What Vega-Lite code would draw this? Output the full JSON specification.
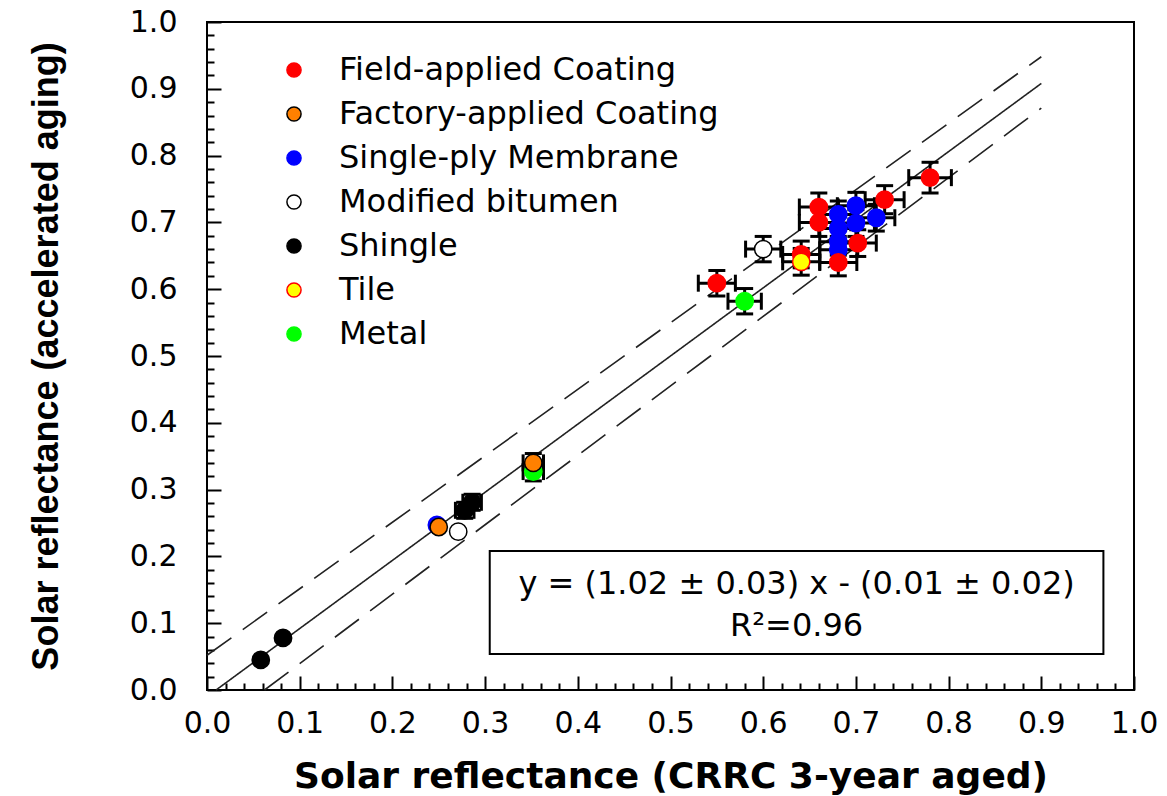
{
  "$schema": "https://vega.github.io/schema/vega-lite/v6.json",
  "width": 927,
  "height": 668,
  "autosize": {"type": "none"},
  "padding": {"left": 207, "top": 22, "right": 33, "bottom": 106},
  "background": "white",
  "config": {
    "view": {"stroke": "black", "strokeWidth": 2},
    "font": "DejaVu Sans"
  },
  "datasets": {
    "points": [
      {"type": "Field-applied Coating", "x": 0.780, "y": 0.767, "ex": 0.023, "ey": 0.023},
      {"type": "Field-applied Coating", "x": 0.731, "y": 0.734, "ex": 0.021, "ey": 0.021},
      {"type": "Field-applied Coating", "x": 0.660, "y": 0.723, "ex": 0.021, "ey": 0.021},
      {"type": "Field-applied Coating", "x": 0.660, "y": 0.700, "ex": 0.021, "ey": 0.021},
      {"type": "Field-applied Coating", "x": 0.641, "y": 0.652, "ex": 0.02, "ey": 0.02},
      {"type": "Field-applied Coating", "x": 0.550, "y": 0.609, "ex": 0.02, "ey": 0.019},
      {"type": "Single-ply Membrane", "x": 0.681, "y": 0.712, "ex": 0.02, "ey": 0.02},
      {"type": "Single-ply Membrane", "x": 0.700, "y": 0.725, "ex": 0.02, "ey": 0.02},
      {"type": "Single-ply Membrane", "x": 0.700, "y": 0.699, "ex": 0.02, "ey": 0.02},
      {"type": "Single-ply Membrane", "x": 0.722, "y": 0.707, "ex": 0.02, "ey": 0.02},
      {"type": "Single-ply Membrane", "x": 0.681, "y": 0.691, "ex": 0.02, "ey": 0.02},
      {"type": "Single-ply Membrane", "x": 0.681, "y": 0.671, "ex": 0.02, "ey": 0.02},
      {"type": "Single-ply Membrane", "x": 0.681, "y": 0.659, "ex": 0.02, "ey": 0.02},
      {"type": "Field-applied Coating", "x": 0.702, "y": 0.669, "ex": 0.02, "ey": 0.02},
      {"type": "Field-applied Coating", "x": 0.681, "y": 0.640, "ex": 0.02, "ey": 0.02},
      {"type": "Tile", "x": 0.641, "y": 0.641, "ex": 0.02, "ey": 0.02},
      {"type": "Modified bitumen", "x": 0.600, "y": 0.660, "ex": 0.019, "ey": 0.019},
      {"type": "Metal", "x": 0.580, "y": 0.582, "ex": 0.018, "ey": 0.019},
      {"type": "Metal", "x": 0.352, "y": 0.327, "ex": 0.011, "ey": 0.014},
      {"type": "Factory-applied Coating", "x": 0.352, "y": 0.340, "ex": 0.011, "ey": 0.014},
      {"type": "Shingle", "x": 0.278, "y": 0.269, "ex": 0.01, "ey": 0.012},
      {"type": "Shingle", "x": 0.286, "y": 0.281, "ex": 0.01, "ey": 0.012},
      {"type": "Modified bitumen", "x": 0.271, "y": 0.237, "ex": 0, "ey": 0},
      {"type": "Single-ply Membrane", "x": 0.248, "y": 0.247, "ex": 0, "ey": 0},
      {"type": "Factory-applied Coating", "x": 0.250, "y": 0.244, "ex": 0, "ey": 0},
      {"type": "Shingle", "x": 0.082, "y": 0.078, "ex": 0, "ey": 0},
      {"type": "Shingle", "x": 0.058, "y": 0.045, "ex": 0, "ey": 0}
    ],
    "lines": [
      {"line": "fit", "x": 0.0098, "y": 0.0},
      {"line": "fit", "x": 0.9, "y": 0.908},
      {"line": "upper", "x": 0.0, "y": 0.052},
      {"line": "upper", "x": 0.9, "y": 0.948},
      {"line": "lower", "x": 0.062, "y": 0.0},
      {"line": "lower", "x": 0.9, "y": 0.871}
    ],
    "box": [{"x": 0.305, "x2": 0.967, "y": 0.054, "y2": 0.208}],
    "eq": [
      {"x": 0.636, "y": 0.158, "t": "y = (1.02 ± 0.03) x - (0.01 ± 0.02)"},
      {"x": 0.636, "y": 0.096, "t": "R²=0.96"}
    ]
  },
  "layer": [
    {
      "data": {"name": "box"},
      "mark": {"type": "rect", "fill": "white", "stroke": "black", "strokeWidth": 2},
      "encoding": {
        "x": {"field": "x", "type": "quantitative", "scale": {"domain": [0, 1], "nice": false, "zero": false},
          "axis": {"orient": "bottom", "values": [0.02,0.04,0.06,0.08,0.12,0.14,0.16,0.18,0.22,0.24,0.26,0.28,0.32,0.34,0.36,0.38,0.42,0.44,0.46,0.48,0.52,0.54,0.56,0.58,0.62,0.64,0.66,0.68,0.72,0.74,0.76,0.78,0.82,0.84,0.86,0.88,0.92,0.94,0.96,0.98],
            "labels": false, "domain": false, "grid": false, "title": null, "tickSize": -7, "tickWidth": 2, "tickColor": "black"}},
        "x2": {"field": "x2"},
        "y": {"field": "y", "type": "quantitative", "scale": {"domain": [0, 1], "nice": false, "zero": false},
          "axis": {"orient": "left", "values": [0.02,0.04,0.06,0.08,0.12,0.14,0.16,0.18,0.22,0.24,0.26,0.28,0.32,0.34,0.36,0.38,0.42,0.44,0.46,0.48,0.52,0.54,0.56,0.58,0.62,0.64,0.66,0.68,0.72,0.74,0.76,0.78,0.82,0.84,0.86,0.88,0.92,0.94,0.96,0.98],
            "labels": false, "domain": false, "grid": false, "title": null, "tickSize": -7, "tickWidth": 2, "tickColor": "black"}},
        "y2": {"field": "y2"}
      }
    },
    {
      "data": {"name": "eq"},
      "mark": {"type": "text", "font": "DejaVu Sans", "fontSize": 32, "align": "center", "baseline": "middle", "color": "black"},
      "encoding": {
        "x": {"field": "x", "type": "quantitative", "axis": null},
        "y": {"field": "y", "type": "quantitative", "axis": null},
        "text": {"field": "t"}
      }
    },
    {
      "data": {"name": "lines"},
      "mark": {"type": "line", "color": "#222222", "strokeWidth": 1.6},
      "encoding": {
        "x": {"field": "x", "type": "quantitative", "axis": null},
        "y": {"field": "y", "type": "quantitative", "axis": null},
        "detail": {"field": "line"},
        "strokeDash": {"field": "line", "type": "nominal", "scale": {"domain": ["fit", "upper", "lower"], "range": [[1, 0], [30, 14], [30, 14]]}, "legend": null}
      }
    },
    {
      "data": {"name": "points"},
      "transform": [{"filter": "datum.ex > 0"}],
      "mark": {"type": "errorbar", "ticks": {"color": "black", "opacity": 1, "thickness": 3, "size": 17}, "rule": {"color": "black", "opacity": 1, "strokeWidth": 3}},
      "encoding": {
        "x": {"field": "x", "type": "quantitative", "axis": null},
        "xError": {"field": "ex"},
        "y": {"field": "y", "type": "quantitative", "axis": null}
      }
    },
    {
      "data": {"name": "points"},
      "transform": [{"filter": "datum.ey > 0"}],
      "mark": {"type": "errorbar", "ticks": {"color": "black", "opacity": 1, "thickness": 3, "size": 17}, "rule": {"color": "black", "opacity": 1, "strokeWidth": 3}},
      "encoding": {
        "y": {"field": "y", "type": "quantitative", "axis": null},
        "yError": {"field": "ey"},
        "x": {"field": "x", "type": "quantitative", "axis": null}
      }
    },
    {
      "data": {"name": "points"},
      "mark": {"type": "circle", "size": 300, "strokeWidth": 1.5, "opacity": 1},
      "encoding": {
        "x": {"field": "x", "type": "quantitative",
          "axis": {"orient": "bottom", "values": [0,0.1,0.2,0.3,0.4,0.5,0.6,0.7,0.8,0.9,1.0], "format": ".1f",
            "labelFont": "DejaVu Sans", "labelFontSize": 30, "labelColor": "black", "labelPadding": 32, "labelFlush": false, "labelOverlap": false,
            "tickSize": -14, "tickWidth": 2, "tickColor": "black", "domain": false, "grid": false,
            "title": "Solar reflectance (CRRC 3-year aged)", "titleFont": "DejaVu Sans", "titleFontWeight": "bold", "titleFontSize": 36, "titleColor": "black",
            "titleY": 97, "titleBaseline": "alphabetic"}},
        "y": {"field": "y", "type": "quantitative",
          "axis": {"orient": "left", "values": [0,0.1,0.2,0.3,0.4,0.5,0.6,0.7,0.8,0.9,1.0], "format": ".1f",
            "labelFont": "DejaVu Sans", "labelFontSize": 30, "labelColor": "black", "labelPadding": 44, "labelFlush": false, "labelOverlap": false,
            "tickSize": -14, "tickWidth": 2, "tickColor": "black", "domain": false, "grid": false,
            "title": "Solar reflectance (accelerated aging)", "titleFont": "Liberation Sans", "titleFontWeight": "bold", "titleFontSize": 36, "titleColor": "black",
            "titleX": -150, "titleBaseline": "alphabetic"}},
        "fill": {"field": "type", "type": "nominal",
          "scale": {"domain": ["Field-applied Coating", "Factory-applied Coating", "Single-ply Membrane", "Modified bitumen", "Shingle", "Tile", "Metal"],
            "range": ["#ff0000", "#ff8000", "#0000ff", "#ffffff", "#000000", "#ffff00", "#00ff00"]},
          "legend": {"orient": "none", "legendX": 71, "legendY": 32, "title": null, "padding": 0, "symbolType": "circle", "symbolSize": 200, "symbolStrokeWidth": 1.5,
            "labelFont": "DejaVu Sans", "labelFontSize": 32, "labelColor": "black", "labelOffset": 29, "rowPadding": 12, "labelLimit": 0}},
        "stroke": {"field": "type", "type": "nominal",
          "scale": {"domain": ["Field-applied Coating", "Factory-applied Coating", "Single-ply Membrane", "Modified bitumen", "Shingle", "Tile", "Metal"],
            "range": ["#ff0000", "#000000", "#0000ff", "#000000", "#000000", "#ff0000", "#00ff00"]},
          "legend": {"orient": "none", "legendX": 71, "legendY": 32, "title": null, "padding": 0, "symbolType": "circle", "symbolSize": 200, "symbolStrokeWidth": 1.5,
            "labelFont": "DejaVu Sans", "labelFontSize": 32, "labelColor": "black", "labelOffset": 29, "rowPadding": 12, "labelLimit": 0}}
      }
    }
  ],
  "resolve": {"axis": {"x": "independent", "y": "independent"}}
}
